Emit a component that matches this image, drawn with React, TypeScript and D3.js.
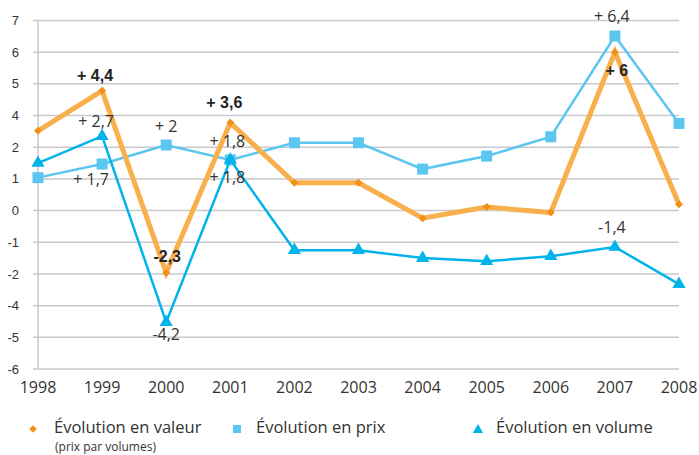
import * as d3 from 'd3';
import React, { useEffect, useRef } from 'react';

// Years on the x axis
const years = ["1998", "1999", "2000", "2001", "2002", "2003", "2004", "2005", "2006", "2007", "2008"];

// Series in gridline units (0 = the "0" gridline)
const valeur = [2.52, 3.78, -1.96, 2.77, 0.88, 0.88, -0.24, 0.11, -0.06, 5.0, 0.2];
const prix = [1.04, 1.47, 2.07, 1.6, 2.14, 2.14, 1.31, 1.72, 2.33, 5.51, 2.75];
const volume = [1.5, 2.35, -3.52, 1.6, -1.25, -1.25, -1.5, -1.6, -1.44, -1.15, -2.32];

// The y axis is labelled as in the original (3 and -3 are skipped)
const yTickValues = [-5, -4, -3, -2, -1, 0, 1, 2, 3, 4, 5, 6];
const yTickLabels = ["-6", "-5", "-4", "-2", "-1", "0", "1", "2", "4", "5", "6", "7"];

// Data labels: series, year, text, weight, offset from the point
const annotations = [
  { series: "valeur", year: "1999", text: "+ 4,4", bold: true, dx: -7, dy: -10 },
  { series: "volume", year: "1999", text: "+ 2,7", bold: false, dx: -6, dy: -9 },
  { series: "prix", year: "1999", text: "+ 1,7", bold: false, dx: -11, dy: 21 },
  { series: "prix", year: "2000", text: "+ 2", bold: false, dx: 0, dy: -13 },
  { series: "valeur", year: "2000", text: "-2,3", bold: true, dx: 1, dy: -11 },
  { series: "volume", year: "2000", text: "-4,2", bold: false, dx: 0, dy: 18 },
  { series: "valeur", year: "2001", text: "+ 3,6", bold: true, dx: -6, dy: -15 },
  { series: "prix", year: "2001", text: "+ 1,8", bold: false, dx: -3, dy: -13 },
  { series: "volume", year: "2001", text: "+ 1,8", bold: false, dx: -3, dy: 23 },
  { series: "prix", year: "2007", text: "+ 6,4", bold: false, dx: -3, dy: -14 },
  { series: "valeur", year: "2007", text: "+ 6", bold: true, dx: 2, dy: 24 },
  { series: "volume", year: "2007", text: "-1,4", bold: false, dx: -3, dy: -14 },
];

const colors = {
  valeur: "#F7B04C",
  valeurMarker: "#F39019",
  prix: "#5BC6EF",
  volume: "#00B3EA",
  grid: "#C9C9CD",
  text: "#333333",
};

const labelFont = "'Open Sans', 'Noto Sans', sans-serif";

const App: React.FC = () => {
  const ref = useRef<SVGSVGElement>(null);

  useEffect(() => {
    if (!ref.current) return;
    const svg = d3.select(ref.current);
    svg.selectAll("*").remove();

    const width = 699;
    const height = 455;
    svg.attr("width", width).attr("height", height);

    const x = d3.scalePoint<string>().domain(years).range([38, 679]);
    const y = d3.scaleLinear().domain([-5, 6]).range([369, 20.5]);

    const seriesData: Record<string, number[]> = { valeur, prix, volume };

    // Gridlines
    svg.append("g")
      .selectAll("line")
      .data(yTickValues)
      .enter().append("line")
      .attr("x1", 33)
      .attr("x2", 679)
      .attr("y1", d => y(d))
      .attr("y2", d => y(d))
      .attr("stroke", colors.grid)
      .attr("stroke-width", 1.5);

    // Vertical axis line
    svg.append("line")
      .attr("x1", x(years[0]) as number)
      .attr("x2", x(years[0]) as number)
      .attr("y1", y(6))
      .attr("y2", y(-5))
      .attr("stroke", colors.grid)
      .attr("stroke-width", 1.5);

    // Y tick labels
    svg.append("g")
      .selectAll("text")
      .data(yTickValues)
      .enter().append("text")
      .attr("x", 19)
      .attr("y", d => y(d))
      .attr("dy", "0.35em")
      .attr("text-anchor", "end")
      .style("font", "13px 'Liberation Sans', Arial, sans-serif")
      .style("fill", colors.text)
      .text((d, i) => yTickLabels[i]);

    // X tick labels
    svg.append("g")
      .selectAll("text")
      .data(years)
      .enter().append("text")
      .attr("x", d => x(d) as number)
      .attr("y", 393)
      .attr("text-anchor", "middle")
      .style("font", `16px ${labelFont}`)
      .style("fill", colors.text)
      .text(d => d);

    const line = (vals: number[]) =>
      d3.line<number>()
        .x((d, i) => x(years[i]) as number)
        .y(d => y(d))(vals);

    // Prix
    svg.append("path")
      .attr("d", line(prix))
      .attr("fill", "none")
      .attr("stroke", colors.prix)
      .attr("stroke-width", 2.5);
    svg.append("g")
      .selectAll("rect")
      .data(prix)
      .enter().append("rect")
      .attr("x", (d, i) => (x(years[i]) as number) - 5.5)
      .attr("y", d => y(d) - 5.5)
      .attr("width", 11)
      .attr("height", 11)
      .attr("fill", colors.prix);

    // Volume
    svg.append("path")
      .attr("d", line(volume))
      .attr("fill", "none")
      .attr("stroke", colors.volume)
      .attr("stroke-width", 2.5);
    const tri = d3.symbol().type(d3.symbolTriangle).size(75);
    svg.append("g")
      .selectAll("path")
      .data(volume)
      .enter().append("path")
      .attr("d", tri() as string)
      .attr("transform", (d, i) => `translate(${x(years[i])},${y(d)})`)
      .attr("fill", colors.volume);

    // Valeur
    svg.append("path")
      .attr("d", line(valeur))
      .attr("fill", "none")
      .attr("stroke", colors.valeur)
      .attr("stroke-width", 5)
      .attr("stroke-linejoin", "miter");
    const dia = d3.symbol().type(d3.symbolSquare).size(32);
    svg.append("g")
      .selectAll("path")
      .data(valeur)
      .enter().append("path")
      .attr("d", dia() as string)
      .attr("transform", (d, i) => `translate(${x(years[i])},${y(d)}) rotate(45)`)
      .attr("fill", colors.valeurMarker);

    // Data labels
    svg.append("g")
      .selectAll("text")
      .data(annotations)
      .enter().append("text")
      .attr("x", d => (x(d.year) as number) + d.dx)
      .attr("y", d => y(seriesData[d.series][years.indexOf(d.year)]) + d.dy)
      .attr("text-anchor", "middle")
      .style("font", d => d.bold
        ? "bold 16px 'Liberation Sans', Arial, sans-serif"
        : `16px ${labelFont}`)
      .style("fill", d => d.bold ? "#222222" : colors.text)
      .text(d => d.text);

    // Legend
    const legend = svg.append("g");
    legend.append("path")
      .attr("d", d3.symbol().type(d3.symbolSquare).size(30)() as string)
      .attr("transform", "translate(33,429) rotate(45)")
      .attr("fill", colors.valeurMarker);
    legend.append("text")
      .attr("x", 54).attr("y", 433)
      .style("font", `16.5px ${labelFont}`)
      .style("fill", colors.text)
      .text("Évolution en valeur");
    legend.append("text")
      .attr("x", 55).attr("y", 451)
      .style("font", `12px ${labelFont}`)
      .style("fill", colors.text)
      .text("(prix par volumes)");

    legend.append("rect")
      .attr("x", 233).attr("y", 425)
      .attr("width", 8).attr("height", 8)
      .attr("fill", colors.prix);
    legend.append("text")
      .attr("x", 256).attr("y", 433)
      .style("font", `16.5px ${labelFont}`)
      .style("fill", colors.text)
      .text("Évolution en prix");

    legend.append("path")
      .attr("d", d3.symbol().type(d3.symbolTriangle).size(45)() as string)
      .attr("transform", "translate(478,430)")
      .attr("fill", colors.volume);
    legend.append("text")
      .attr("x", 496).attr("y", 433)
      .style("font", `16.5px ${labelFont}`)
      .style("fill", colors.text)
      .text("Évolution en volume");
  }, []);

  return (
    <svg ref={ref} style={{ position: "absolute", left: 0, top: 0, background: "#fff" }}></svg>
  );
};

export default App;
